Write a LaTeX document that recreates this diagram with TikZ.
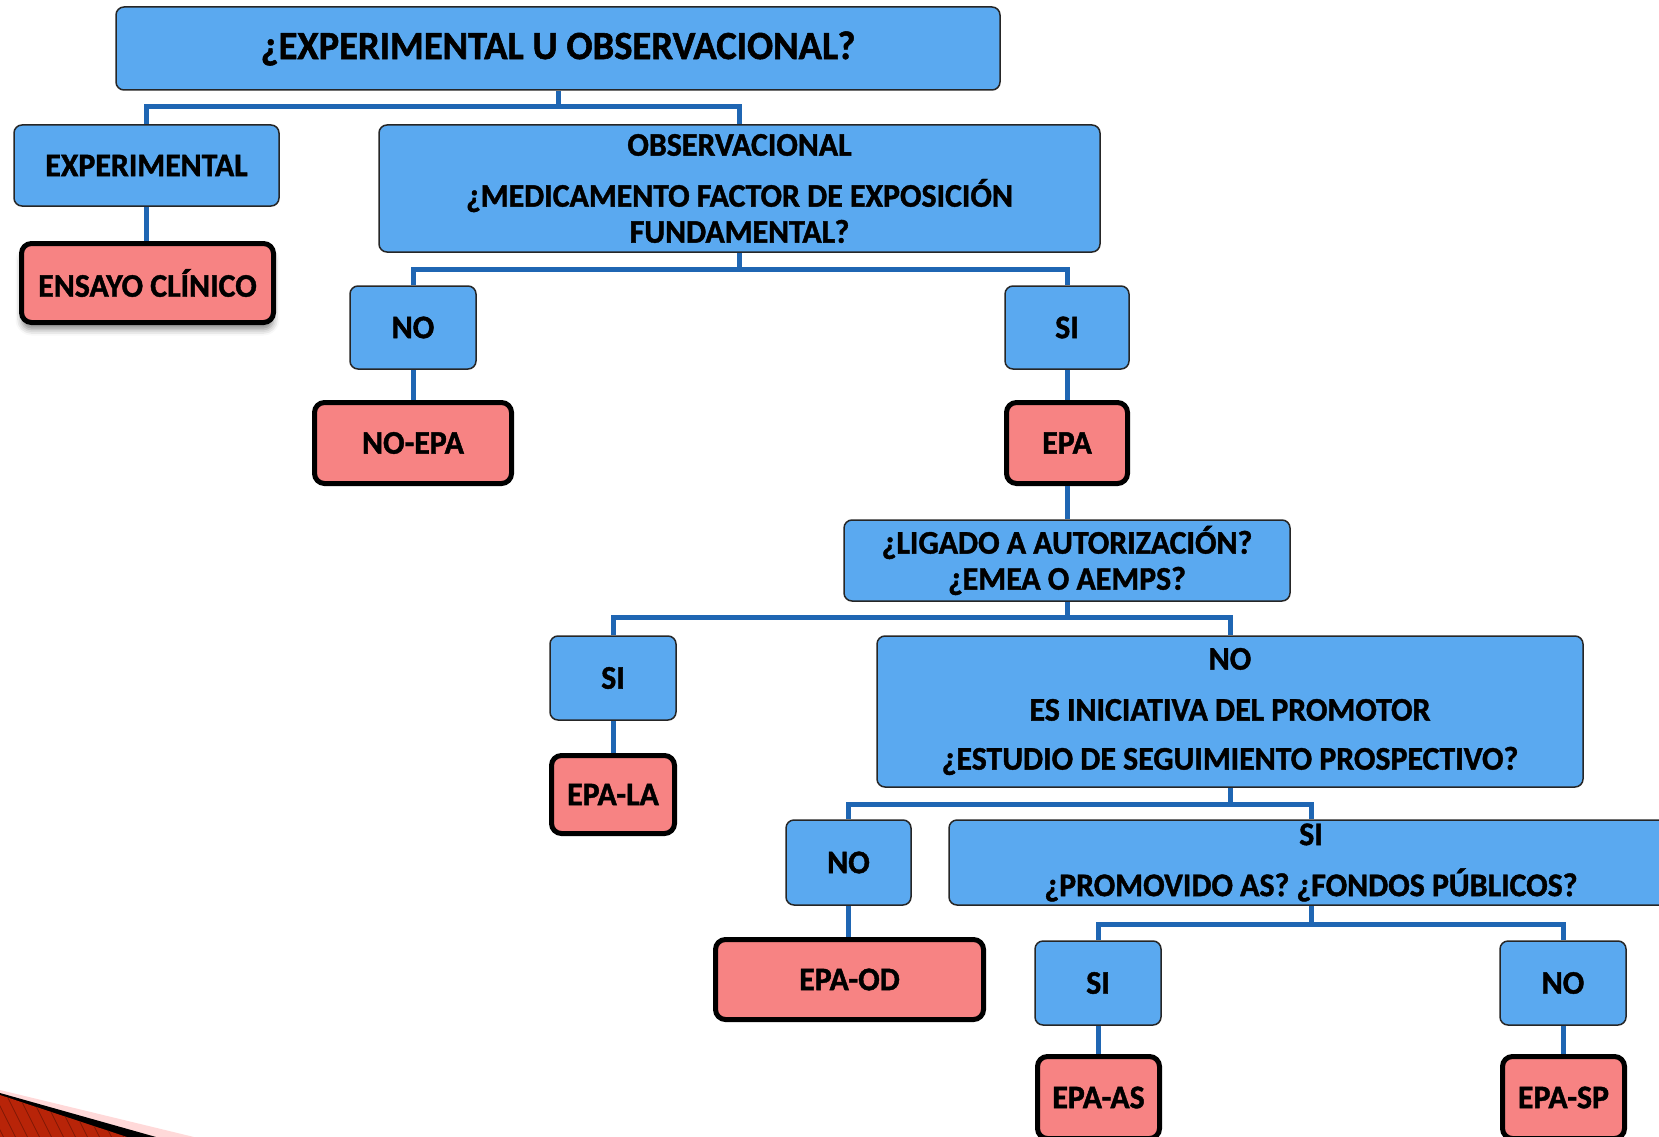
\documentclass[tikz,border=0pt]{standalone}
\usepackage{fontspec}
\setmainfont{Carlito}[FakeStretch=0.965, BoldFeatures={FakeBold=1.3}]
\usetikzlibrary{shadows.blur}
\definecolor{boxblue}{HTML}{5AA9F0}
\definecolor{boxred}{HTML}{F78383}
\definecolor{connblue}{HTML}{1F66B3}
\definecolor{wedgered}{HTML}{B82408}
\tikzset{
  bbox/.style={draw=black!85, line width=1.5pt, fill=boxblue, rounded corners=8pt, inner sep=0pt, align=center, font=\fontsize{33}{36}\selectfont\bfseries},
  rbox/.style={draw=black, line width=5pt, fill=boxred, rounded corners=10pt, inner sep=0pt, align=center, font=\fontsize{33}{36}\selectfont\bfseries},
  conn/.style={draw=connblue, line width=5pt},
}
\begin{document}
\begin{tikzpicture}[x=1pt,y=-1pt]
\useasboundingbox (0,0) rectangle (1659,1137);
\clip (0,0) rectangle (1659,1137);
% bottom-left decoration
\fill[red!15] (0,1090) -- (194,1137) -- (0,1137) -- cycle;
\fill[black] (0,1093) -- (156,1137) -- (0,1137) -- cycle;
\begin{scope}
\clip (0,1095) -- (127,1137) -- (0,1137) -- cycle;
\fill[wedgered] (0,1090) rectangle (140,1137);
\foreach \i in {0,12,...,150} {\draw[wedgered!70!black, line width=0.8pt] (\i-20,1090) -- (\i+5,1140);}
\end{scope}

% nodes
\node[bbox, minimum width=884pt, minimum height=83pt, font=\fontsize{40}{44}\selectfont\bfseries] (top) at (558,48.5) {¿EXPERIMENTAL U OBSERVACIONAL?};
\node[bbox, minimum width=265pt, minimum height=81pt] (exp) at (146.5,165.5) {EXPERIMENTAL};
\node[rbox, minimum width=252pt, minimum height=79pt, blur shadow={shadow xshift=0pt, shadow yshift=-7pt, shadow blur radius=6pt, shadow opacity=45}] (ens) at (147.5,283) {ENSAYO CLÍNICO};
\node[bbox, minimum width=721pt, minimum height=127pt] (obs) at (739.5,188.5) {OBSERVACIONAL\\[15pt]¿MEDICAMENTO FACTOR DE EXPOSICIÓN\\FUNDAMENTAL?};
\node[bbox, minimum width=126pt, minimum height=83pt] (no1) at (413,327.5) {NO};
\node[rbox, minimum width=197pt, minimum height=81pt] (noepa) at (413,443) {NO-EPA};
\node[bbox, minimum width=124pt, minimum height=83pt] (si1) at (1067,327.5) {SI};
\node[rbox, minimum width=121pt, minimum height=81pt] (epa) at (1067,443) {EPA};
\node[bbox, minimum width=446pt, minimum height=81pt] (lig) at (1067,560.5) {¿LIGADO A AUTORIZACIÓN?\\¿EMEA O AEMPS?};
\node[bbox, minimum width=126pt, minimum height=84pt] (si2) at (613,678) {SI};
\node[rbox, minimum width=123pt, minimum height=78pt] (epala) at (613,794.5) {EPA-LA};
\node[bbox, minimum width=706pt, minimum height=151pt] (no2) at (1230,711.5) {NO\\[15pt]ES INICIATIVA DEL PROMOTOR\\[13pt]¿ESTUDIO DE SEGUIMIENTO PROSPECTIVO?};
\node[bbox, minimum width=125pt, minimum height=85pt] (no3) at (848.5,862.5) {NO};
\node[rbox, minimum width=268pt, minimum height=80pt] (epaod) at (849.5,979.5) {EPA-OD};
\node[bbox, minimum width=724pt, minimum height=85pt] (si3) at (1311,862.5) {SI\\[15pt]¿PROMOVIDO AS? ¿FONDOS PÚBLICOS?};
\node[bbox, minimum width=126pt, minimum height=84pt] (si4) at (1098,983) {SI};
\node[bbox, minimum width=126pt, minimum height=84pt] (no4) at (1563,983) {NO};
\node[rbox, minimum width=122pt, minimum height=82pt] (epaas) at (1098.5,1097.5) {EPA-AS};
\node[rbox, minimum width=122pt, minimum height=82pt] (epasp) at (1563.5,1097.5) {EPA-SP};

% connectors
\coordinate (h1) at (0,107);
\coordinate (h2) at (0,269);
\coordinate (h3) at (0,617);
\coordinate (h4) at (0,804);
\coordinate (h5) at (0,924);
\draw[conn] (top.south) -- (top.south |- h1) -| (exp.north);
\draw[conn] (top.south |- h1) -| (obs.north);
\draw[conn] (exp.south) -- (exp.south |- ens.north);
\draw[conn] (obs.south) -- (obs.south |- h2) -| (no1.north);
\draw[conn] (obs.south |- h2) -| (si1.north);
\draw[conn] (no1.south) -- (noepa.north);
\draw[conn] (si1.south) -- (epa.north);
\draw[conn] (epa.south) -- (lig.north);
\draw[conn] (lig.south) -- (lig.south |- h3) -| (si2.north);
\draw[conn] (lig.south |- h3) -| (no2.north);
\draw[conn] (si2.south) -- (epala.north);
\draw[conn] (no2.south) -- (no2.south |- h4) -| (no3.north);
\draw[conn] (no2.south |- h4) -| (si3.north);
\draw[conn] (no3.south) -- (no3.south |- epaod.north);
\draw[conn] (si3.south) -- (si3.south |- h5) -| (si4.north);
\draw[conn] (si3.south |- h5) -| (no4.north);
\draw[conn] (si4.south) -- (si4.south |- epaas.north);
\draw[conn] (no4.south) -- (no4.south |- epasp.north);
\end{tikzpicture}
\end{document}
